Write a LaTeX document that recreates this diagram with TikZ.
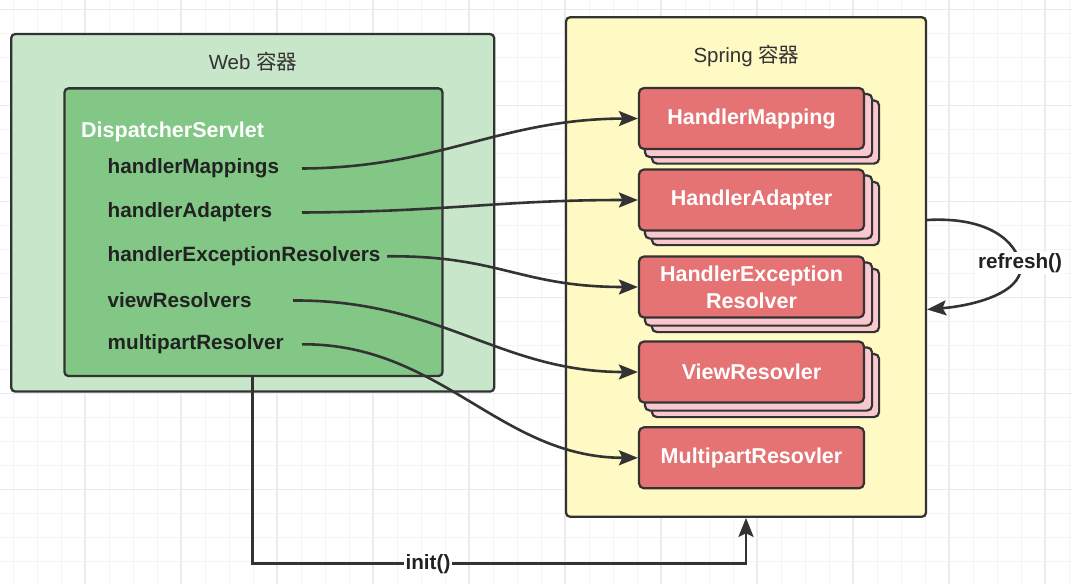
\documentclass[tikz,border=0pt]{standalone}
\usepackage{fontspec}
\setmainfont{Liberation Sans}
\newfontfamily\cjk{Noto Sans CJK SC}
\usetikzlibrary{arrows.meta,calc}
\definecolor{edgec}{HTML}{333333}
\definecolor{webfill}{HTML}{C8E6C9}
\definecolor{dsfill}{HTML}{82C785}
\definecolor{springfill}{HTML}{FFF9C4}
\definecolor{redfill}{HTML}{E57373}
\definecolor{pinkfill}{HTML}{F8C8CE}
\definecolor{gridminor}{HTML}{F4F4F4}
\definecolor{gridmajor}{HTML}{EBEBEB}
\definecolor{txt}{HTML}{222222}
\pgfdeclarelayer{gridl}\pgfdeclarelayer{contl}\pgfdeclarelayer{stackl}
\pgfsetlayers{gridl,contl,stackl,main}
\newcommand\boldfnt{\fontsize{20.7}{27}\selectfont\bfseries}
\newcommand\redfnt{\fontsize{21.5}{27}\selectfont\bfseries}
\newcommand\titlefnt{\fontsize{20.5}{24}\selectfont}
\begin{document}
\begin{tikzpicture}[x=1pt,y=-1pt,
  container/.style={draw=edgec,line width=2.3pt,rounded corners=4pt,inner sep=0pt},
  redbox/.style={draw=edgec,line width=2.2pt,rounded corners=5pt,fill=redfill,
     minimum width=225pt,minimum height=61pt,inner sep=0pt,text=white,
     font=\redfnt,align=center},
  backbox/.style={draw=edgec,line width=2.2pt,rounded corners=5pt,fill=pinkfill},
  itemtxt/.style={anchor=west,inner sep=0pt,text=txt,font=\boldfnt},
  titletxt/.style={inner sep=0pt,text=edgec,font=\titlefnt},
  conn/.style={draw=edgec,line width=2.6pt,-{Stealth[length=19pt,width=15pt,inset=3.5pt]}},
  lbl/.style={fill=white,inner sep=1.5pt,text=txt,font=\boldfnt}]
\useasboundingbox (0,0) rectangle (1072,584);
\begin{pgfonlayer}{gridl}
  \fill[white] (0,0) rectangle (1072,584);
  \foreach \i in {0,...,44}{
    \pgfmathsetmacro\xx{13+24*\i}
    \pgfmathtruncatemacro\mm{mod(\i,4)}
    \ifnum\mm=3 \draw[gridmajor,line width=1.2pt] (\xx,0) -- (\xx,584);
    \else \draw[gridminor,line width=1pt] (\xx,0) -- (\xx,584); \fi
  }
  \foreach \i in {0,...,24}{
    \pgfmathsetmacro\yy{9.3+24*\i}
    \pgfmathtruncatemacro\mm{mod(\i,4)}
    \ifnum\mm=0 \draw[gridmajor,line width=1.2pt] (0,\yy) -- (1072,\yy);
    \else \draw[gridminor,line width=1pt] (0,\yy) -- (1072,\yy); \fi
  }
\end{pgfonlayer}
\begin{pgfonlayer}{contl}
  \node[container,fill=webfill,minimum width=483pt,minimum height=357.5pt] (web) at (252.7,212.8) {};
  \node[container,fill=dsfill,minimum width=378pt,minimum height=287.7pt] (ds) at (253.5,232.2) {};
  \node[container,fill=springfill,minimum width=360pt,minimum height=499.4pt] (sp) at (746,267) {};
\end{pgfonlayer}
\node[titletxt] (webt) at (253,61.5) {Web {\cjk 容器}};
\node[titletxt] (spt) at (746.5,55.5) {Spring {\cjk 容器}};
\node[itemtxt,text=white,font=\fontsize{21.5}{27}\selectfont\bfseries] (dst) at (81,131.5) {DispatcherServlet};
\node[itemtxt] (i1) at (107.5,168.5) {handlerMappings};
\node[itemtxt] (i2) at (107.5,212.5) {handlerAdapters};
\node[itemtxt] (i3) at (107.5,256.3) {handlerExceptionResolvers};
\node[itemtxt] (i4) at (107.5,300.5) {viewResolvers};
\node[itemtxt] (i5) at (107.5,344.3) {multipartResolver};
\node[redbox] (r1) at (751.5,118.5) {HandlerMapping};
\node[redbox] (r2) at (751.5,200) {HandlerAdapter};
\node[redbox] (r3) at (751.5,287) {HandlerException\\Resolver};
\node[redbox] (r4) at (751.5,372) {ViewResovler};
\node[redbox] (r5) at (751.5,457.8) {MultipartResovler};
\begin{pgfonlayer}{stackl}
  \foreach \n in {r1,r2,r3,r4}{
    \draw[backbox] ([shift={(14,13.5)}]\n.north west) rectangle ([shift={(14,13.5)}]\n.south east);
    \draw[backbox] ([shift={(7,7)}]\n.north west) rectangle ([shift={(7,7)}]\n.south east);
  }
\end{pgfonlayer}
\draw[conn] (i1.east -| 302,0) .. controls (440,167.7) and (500,119) .. (r1.west);
\draw[conn] (i2.east -| 302,0) .. controls (450,211.7) and (500,200) .. (r2.west);
\draw[conn] (i3.east -| 387,0) .. controls (500,255.3) and (520,287) .. (r3.west);
\draw[conn] (i4.east -| 293,0) .. controls (440,299.5) and (500,372) .. (r4.west);
\draw[conn] (i5.east -| 302,0) .. controls (441,343.3) and (500,457.8) .. (r5.west);
\coordinate (ic) at (252.5,563.3);
\draw[conn] (ds.south -| ic) -- (ic) -| (sp.south);
\node[lbl] (initl) at (428,564.5) {init()};
\draw[conn] (sp.east |- 0,220) .. controls (980,217) and (1012,235) .. (1020,262)
   .. controls (1027,290) and (980,305) .. (sp.east |- 0,309.5);
\node[lbl] (refl) at (1020,263) {refresh()};
\end{tikzpicture}
\end{document}
